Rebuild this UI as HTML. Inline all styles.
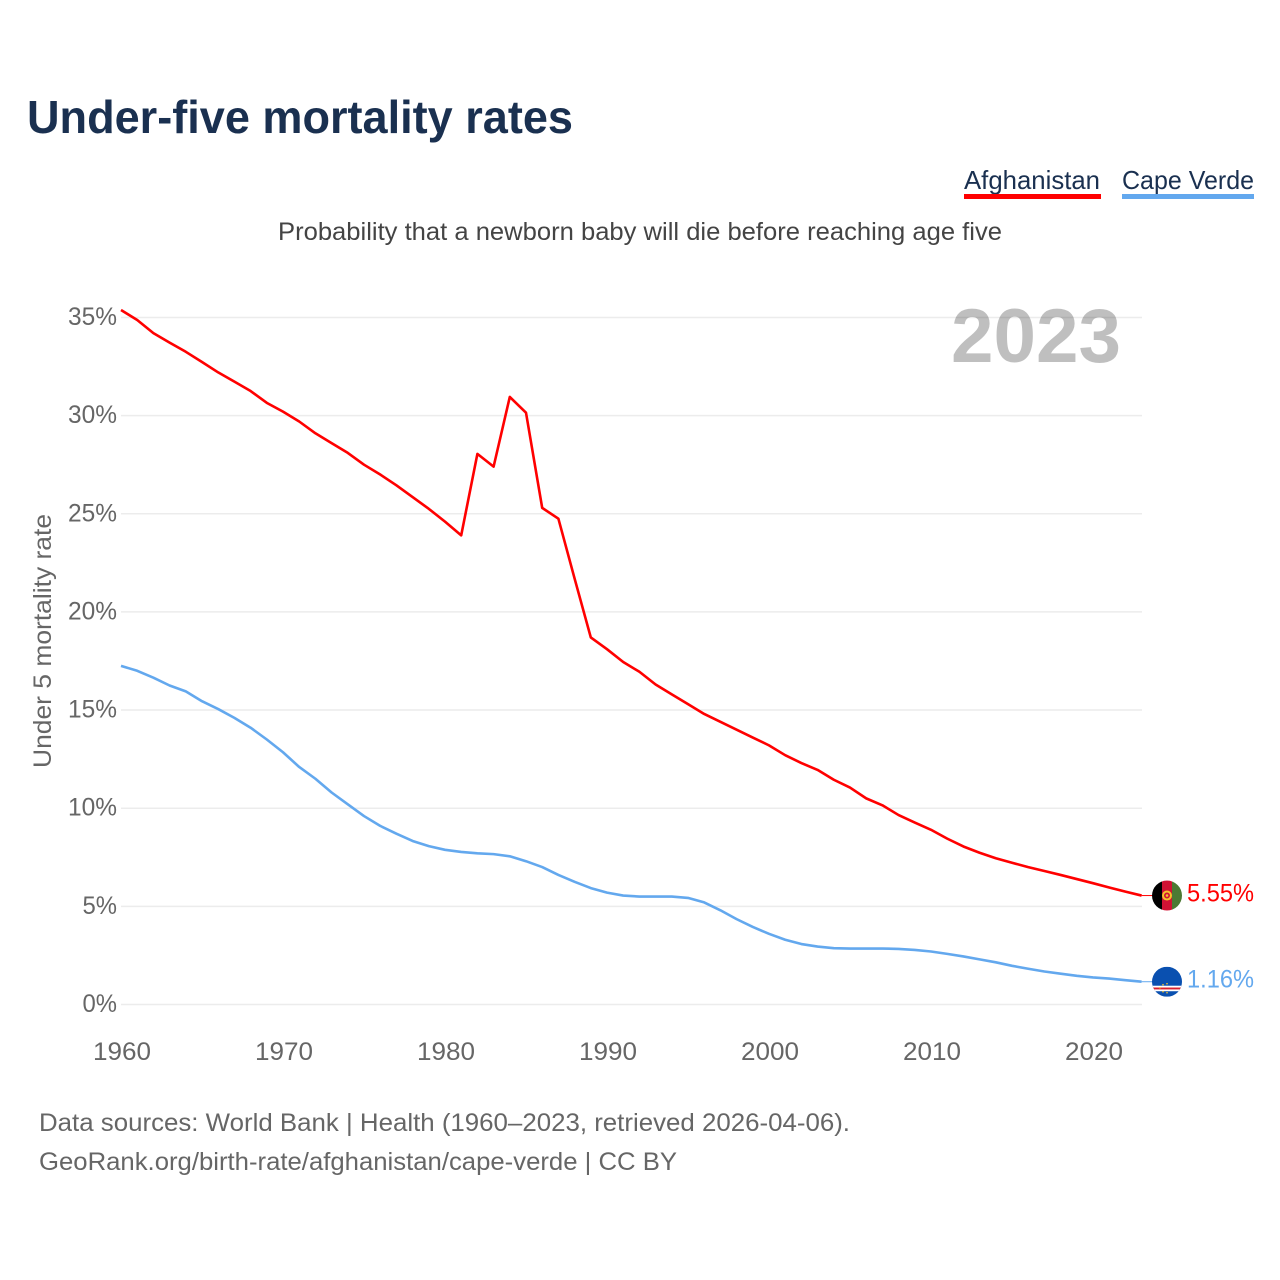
<!DOCTYPE html>
<html lang="en">
<head>
<meta charset="utf-8">
<title>Under-five mortality rates</title>
<style>
html,body{margin:0;padding:0;background:#fff;}
svg{display:block;}
text{font-family:"Liberation Sans",sans-serif;}
</style>
</head>
<body>
<svg id="chart" xmlns="http://www.w3.org/2000/svg" width="1280" height="1280" viewBox="0 0 1280 1280">
  <rect width="1280" height="1280" fill="#fff"/>
  <text x="27" y="133" font-size="46" font-weight="700" fill="#1a3050" textLength="546" lengthAdjust="spacingAndGlyphs">Under-five mortality rates</text>

  <g>
    <text x="964" y="189" font-size="26" fill="#1a3050" textLength="136" lengthAdjust="spacingAndGlyphs">Afghanistan</text>
    <rect x="964" y="194" width="137" height="5" fill="#ff0000"/>
  </g>
  <g>
    <text x="1122" y="189" font-size="26" fill="#1a3050" textLength="132" lengthAdjust="spacingAndGlyphs">Cape Verde</text>
    <rect x="1122" y="194" width="132" height="5" fill="#63a8ee"/>
  </g>

  <text x="278" y="240" font-size="25" fill="#444" textLength="724" lengthAdjust="spacingAndGlyphs">Probability that a newborn baby will die before reaching age five</text>

  <g id="grid"></g>
  <text x="951" y="362" font-size="76" font-weight="700" fill="#000" fill-opacity="0.25" textLength="170" lengthAdjust="spacingAndGlyphs">2023</text>
  <g id="yticks"></g>
  <g id="xticks"></g>
  <text transform="translate(51 641) rotate(-90)" text-anchor="middle" font-size="25" fill="#666" textLength="254" lengthAdjust="spacingAndGlyphs">Under 5 mortality rate</text>

  <g id="series"></g>

  <defs>
    <clipPath id="flag-clip-a"><circle cx="15" cy="15" r="15"/></clipPath>
    <clipPath id="flag-clip-b"><circle cx="15" cy="15" r="15"/></clipPath>
  </defs>
  <g id="flag-afghanistan">
    <g clip-path="url(#flag-clip-a)">
      <rect x="0" y="0" width="10" height="30" fill="#000"/>
      <rect x="10" y="0" width="10" height="30" fill="#d11234"/>
      <rect x="20" y="0" width="10" height="30" fill="#4c7a34"/>
      <circle cx="15" cy="15" r="4" fill="none" stroke="#f4c22b" stroke-width="2"/>
      <circle cx="15" cy="15" r="1.3" fill="#f4c22b"/>
    </g>
  </g>
  <g id="flag-cape-verde">
    <g clip-path="url(#flag-clip-b)">
      <rect x="0" y="0" width="30" height="30" fill="#0a50b0"/>
      <rect x="0" y="19" width="30" height="5.5" fill="#fff"/>
      <rect x="0" y="20.8" width="30" height="1.9" fill="#d8202f"/>
      <circle cx="11" cy="18" r="0.8" fill="#f4c22b"/>
      <circle cx="15" cy="17" r="0.8" fill="#f4c22b"/>
      <circle cx="8" cy="21" r="0.8" fill="#f4c22b"/>
      <circle cx="15" cy="26" r="0.8" fill="#f4c22b"/>
      <circle cx="11" cy="25" r="0.8" fill="#f4c22b"/>
    </g>
  </g>
  <g id="endlabels"></g>

  <text x="39" y="1131" font-size="25" fill="#666" textLength="811" lengthAdjust="spacingAndGlyphs">Data sources: World Bank | Health (1960–2023, retrieved 2026-04-06).</text>
  <text x="39" y="1170" font-size="25" fill="#666" textLength="638" lengthAdjust="spacingAndGlyphs">GeoRank.org/birth-rate/afghanistan/cape-verde | CC BY</text>
</svg>
<script>
const startYear = 1960;
const afghanistanValues = [35.38,34.87,34.2,33.72,33.25,32.73,32.2,31.73,31.25,30.65,30.2,29.7,29.1,28.6,28.1,27.5,27.0,26.45,25.85,25.25,24.6,23.9,28.05,27.4,30.95,30.15,25.3,24.75,21.7,18.7,18.1,17.45,16.95,16.3,15.8,15.3,14.8,14.4,14.0,13.6,13.2,12.7,12.3,11.95,11.45,11.05,10.5,10.15,9.65,9.27,8.9,8.45,8.05,7.73,7.45,7.22,7.0,6.8,6.6,6.39,6.18,5.96,5.75,5.55];
const capeVerdeValues = [17.25,17.0,16.65,16.25,15.95,15.45,15.05,14.6,14.1,13.5,12.85,12.1,11.5,10.8,10.2,9.6,9.1,8.7,8.33,8.07,7.88,7.77,7.7,7.66,7.55,7.3,7.0,6.6,6.25,5.93,5.7,5.55,5.5,5.5,5.5,5.43,5.2,4.8,4.35,3.95,3.6,3.3,3.08,2.95,2.87,2.85,2.85,2.85,2.83,2.78,2.7,2.58,2.45,2.3,2.15,1.97,1.82,1.68,1.57,1.46,1.38,1.32,1.24,1.16];
const yTickValues = [0,5,10,15,20,25,30,35];
const xTickYears = [1960,1970,1980,1990,2000,2010,2020];

const NS = 'http://www.w3.org/2000/svg';
function xScale(year){ return 121 + (year - 1960) * 16.2; }
function yScale(v){ return 1004.5 - v * 19.63; }
function make(tag, parent, attrs, content){
  const el = document.createElementNS(NS, tag);
  for (const k in attrs) el.setAttribute(k, attrs[k]);
  if (content !== undefined) el.textContent = content;
  parent.appendChild(el);
  return el;
}
const gridGroup = document.getElementById('grid');
const yTickGroup = document.getElementById('yticks');
const xTickGroup = document.getElementById('xticks');
const seriesGroup = document.getElementById('series');
const labelGroup = document.getElementById('endlabels');

yTickValues.forEach(function(v){
  const line = make('line', gridGroup, {x1:121, x2:1142, y1:yScale(v), y2:yScale(v), stroke:'#ececec', 'stroke-width':1.5});
  
  
  const label = v + '%';
  const t = make('text', yTickGroup, {x:117, y:yScale(v)+7.5, 'text-anchor':'end', 'font-size':25, fill:'#666', textLength:(String(v).length*14.5+20), lengthAdjust:'spacingAndGlyphs'}, label);
  
  
});

xTickYears.forEach(function(y){
  const t = make('text', xTickGroup, {x:xScale(y)+1, y:1060, 'text-anchor':'middle', 'font-size':25, fill:'#666', textLength:58, lengthAdjust:'spacingAndGlyphs'}, String(y));
  
  
});

function linePath(values){
  return values.map(function(v, i){
    return (i ? 'L' : 'M') + xScale(startYear + i).toFixed(2) + ' ' + yScale(v).toFixed(2);
  }).join(' ');
}
function endValue(values){ return values[values.length - 1]; }
function endX(values){ return xScale(startYear + values.length - 1); }

const capePath = make('path', seriesGroup, {d:linePath(capeVerdeValues), fill:'none', stroke:'#63a8ee', 'stroke-width':2.6, 'stroke-linejoin':'round'});


const afgPath = make('path', seriesGroup, {d:linePath(afghanistanValues), fill:'none', stroke:'#ff0000', 'stroke-width':2.6, 'stroke-linejoin':'round'});



const capeLead = make('line', seriesGroup, {x1:endX(capeVerdeValues), x2:1153, y1:yScale(endValue(capeVerdeValues)), y2:yScale(endValue(capeVerdeValues)), stroke:'#63a8ee', 'stroke-width':1});


const afgLead = make('line', seriesGroup, {x1:endX(afghanistanValues), x2:1153, y1:yScale(endValue(afghanistanValues)), y2:yScale(endValue(afghanistanValues)), stroke:'#ff0000', 'stroke-width':1});



document.getElementById('flag-afghanistan').setAttribute('transform', 'translate(1152 ' + (yScale(endValue(afghanistanValues)) - 15) + ')');
document.getElementById('flag-cape-verde').setAttribute('transform', 'translate(1152 ' + (yScale(endValue(capeVerdeValues)) - 15) + ')');

const afgLabel = make('text', labelGroup, {x:1187, y:yScale(endValue(afghanistanValues))+6, 'font-size':25, fill:'#ff0000', textLength:67, lengthAdjust:'spacingAndGlyphs'}, endValue(afghanistanValues).toFixed(2) + '%');


const capeLabel = make('text', labelGroup, {x:1187, y:yScale(endValue(capeVerdeValues))+6, 'font-size':25, fill:'#63a8ee', textLength:67, lengthAdjust:'spacingAndGlyphs'}, endValue(capeVerdeValues).toFixed(2) + '%');


</script>
</body>
</html>
